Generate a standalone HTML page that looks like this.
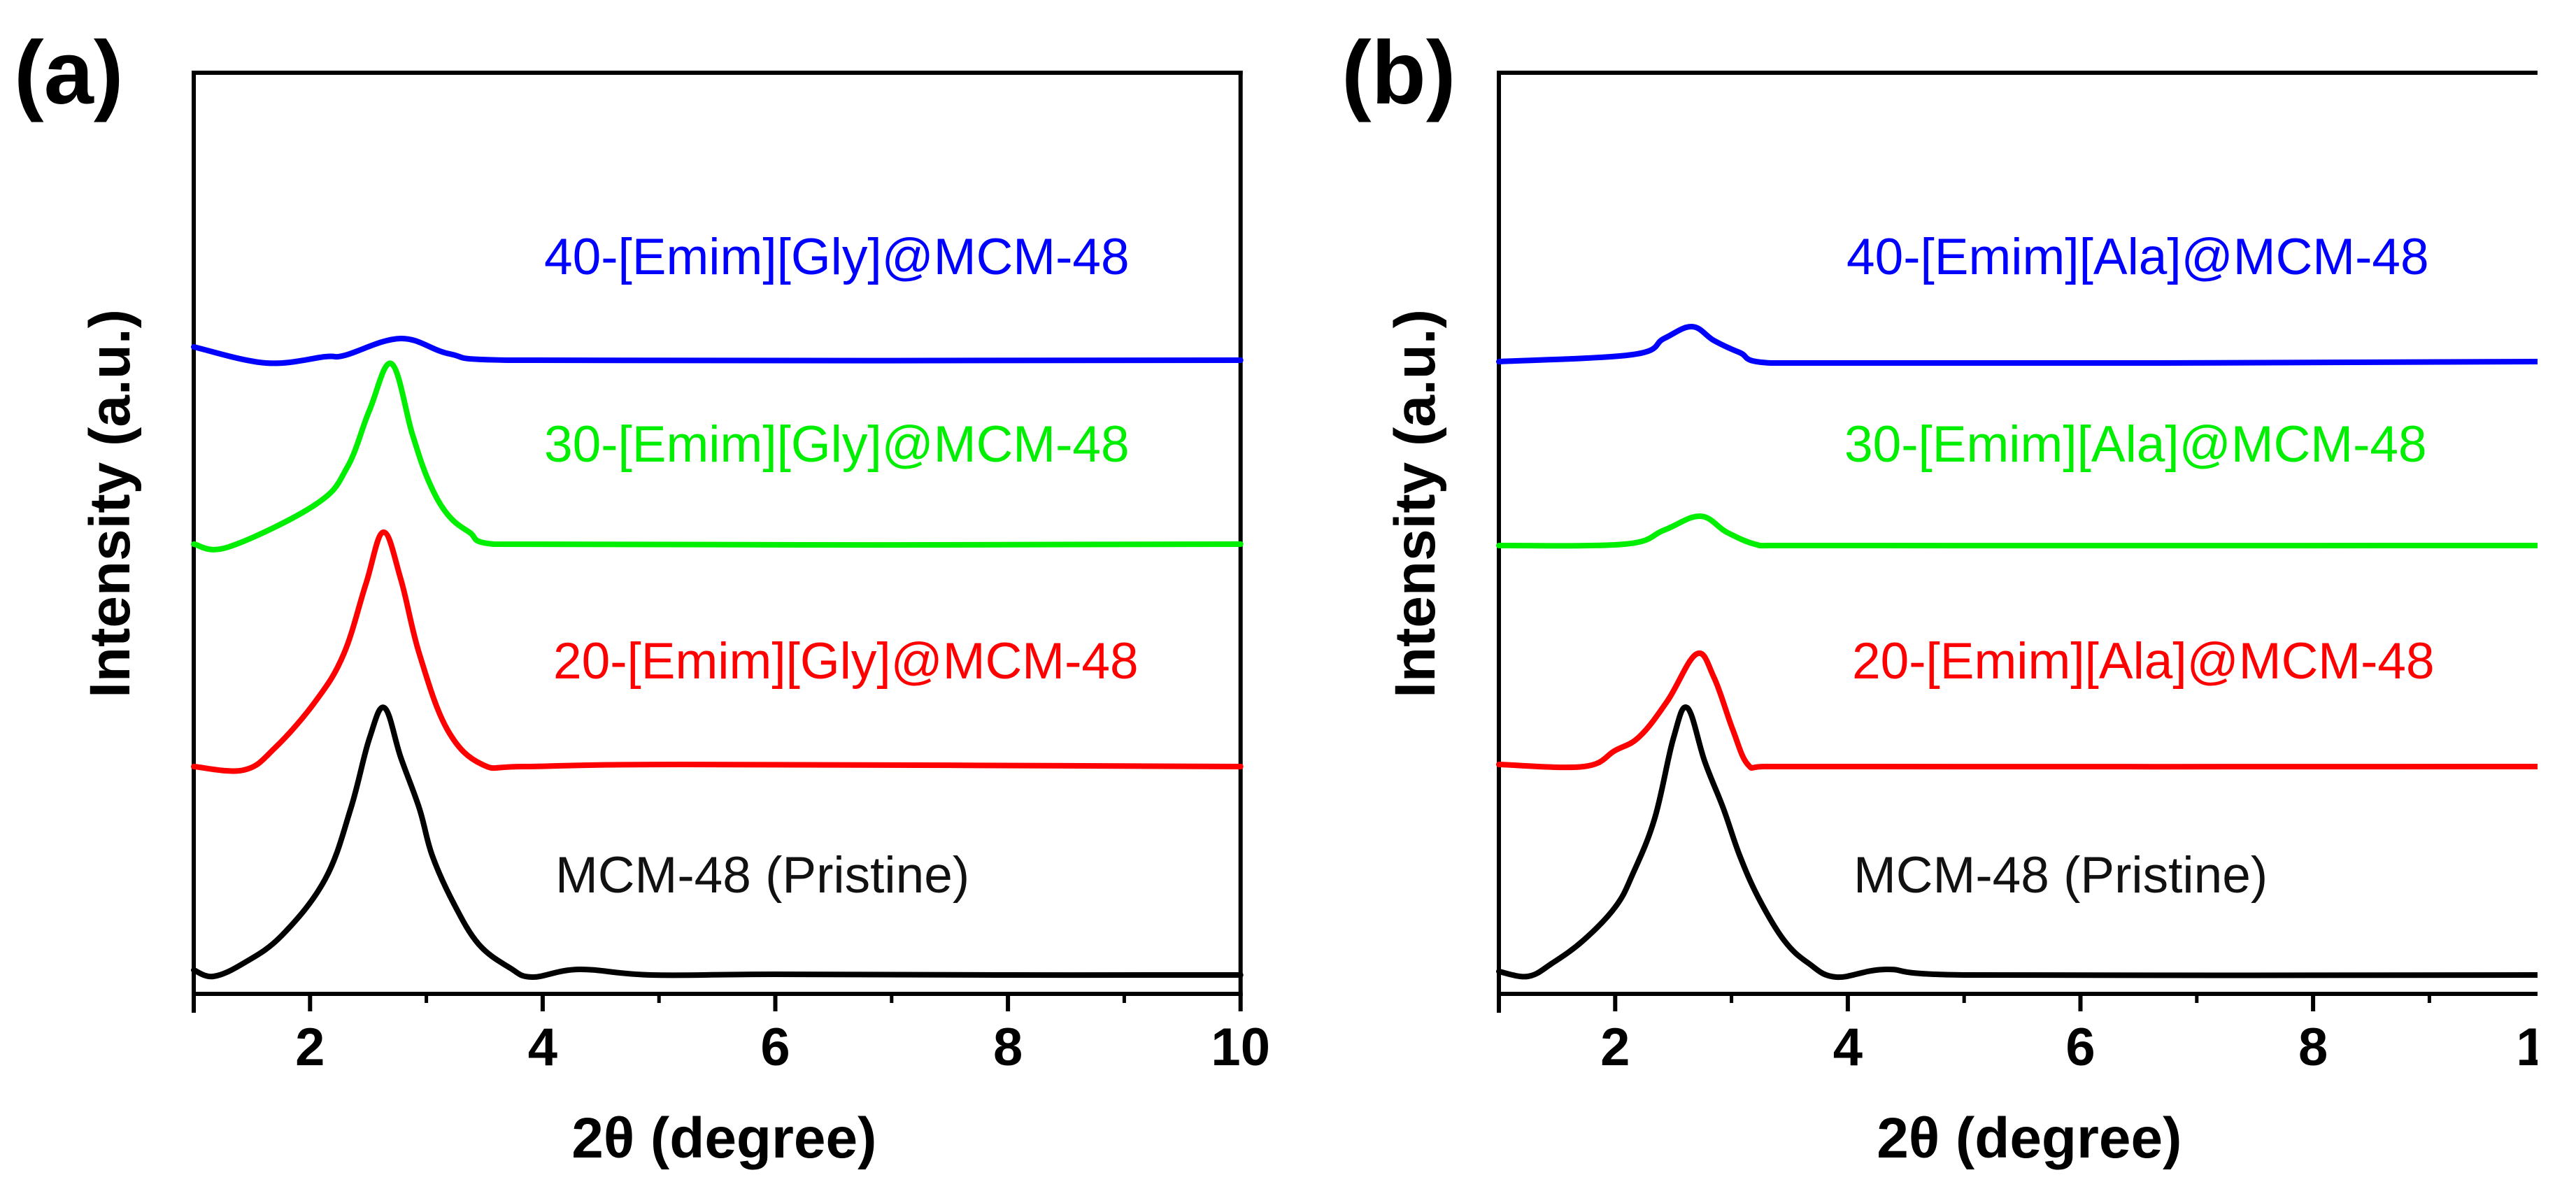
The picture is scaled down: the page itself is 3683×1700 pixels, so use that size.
<!DOCTYPE html>
<html><head><meta charset="utf-8"><style>
html,body{margin:0;padding:0;background:#fff;}
svg{display:block;font-family:"Liberation Sans",Arial,sans-serif;}
</style></head><body>
<svg id="fig" width="3683" height="1700" viewBox="0 0 3683 1700" xmlns="http://www.w3.org/2000/svg">
<rect x="0" y="0" width="3683" height="1700" fill="#fff"/>
<defs><clipPath id="clipB"><rect x="0" y="0" width="3628" height="1700"/></clipPath></defs>
<g id="panelA"></g>
<g id="panelB" clip-path="url(#clipB)"></g>
</svg>
<script>
// ---- data (2θ in degrees, intensity in a.u.) ----
const xTicks = [2, 4, 6, 8, 10];
const xTickLabels = ["2", "4", "6", "8", "10"];
const minorTicks = [1, 3, 5, 7, 9];

const a_black_x = [1.0,1.17,1.43,1.76,2.13,2.35,2.51,2.64,2.78,2.94,3.05,3.23,3.45,3.72,3.91,4.31,4.93,6,8,10];
const a_black_y = [34,25,44,84,164,265,365,409,338,265,198,131,71,37,24,35,27,28,27,27];
const a_red_x = [1.0,1.43,1.70,2.05,2.29,2.48,2.63,2.78,2.94,3.18,3.48,3.85,5.2,10];
const a_red_y = [325,320,352,419,486,586,660,593,486,378,328,325,328,325];
const a_green_x = [1.0,1.3,2.05,2.32,2.51,2.70,2.88,3.02,3.18,3.37,3.58,10];
const a_green_y = [643,639,700,753,834,901,800,733,686,660,643,643];
const a_blue_x = [1.0,1.62,2.13,2.3,2.78,3.2,3.7,10];
const a_blue_y = [925,902,911,913,937,915,906,906];

const b_black_x = [1.0,1.25,1.46,1.73,2.0,2.15,2.34,2.5,2.62,2.77,2.93,3.07,3.23,3.45,3.66,3.9,4.33,5,10];
const b_black_y = [32,25,44,77,124,171,251,365,409,332,265,198,138,77,44,24,35,27,27];
const b_red_x = [1.0,1.73,2.0,2.21,2.45,2.70,2.85,3.01,3.14,3.3,10];
const b_red_y = [328,325,348,368,419,486,452,378,328,325,325];
const b_green_x = [1.0,2.08,2.42,2.73,2.96,3.2,3.4,10];
const b_green_y = [641,643,663,683,660,643,641,641];
const b_blue_x = [1.0,2.15,2.42,2.66,2.85,3.07,3.34,10];
const b_blue_y = [904,914,937,954,934,917,902,904];

const labelsA = ["40-[Emim][Gly]@MCM-48","30-[Emim][Gly]@MCM-48","20-[Emim][Gly]@MCM-48","MCM-48 (Pristine)"];
const labelsB = ["40-[Emim][Ala]@MCM-48","30-[Emim][Ala]@MCM-48","20-[Emim][Ala]@MCM-48","MCM-48 (Pristine)"];

const NS = "http://www.w3.org/2000/svg";
function mk(tag, attrs, parent){const e=document.createElementNS(NS,tag);for(const k in attrs)e.setAttribute(k,attrs[k]);parent.appendChild(e);return e;}

const Y0 = 1421, Y1 = 104, YMAX = 1317;
function yScale(v){return Y0 - (v/YMAX)*(Y0-Y1);}

function smoothPath(P){
  let d = 'M' + P[0][0].toFixed(1) + ',' + P[0][1].toFixed(1);
  for(let i=0;i<P.length-1;i++){
    const p0=P[Math.max(0,i-1)], p1=P[i], p2=P[i+1], p3=P[Math.min(P.length-1,i+2)];
    const t=0.18;
    let c1x=p1[0]+(p2[0]-p0[0])*t, c1y=p1[1]+(p2[1]-p0[1])*t;
    let c2x=p2[0]-(p3[0]-p1[0])*t, c2y=p2[1]-(p3[1]-p1[1])*t;
    c1x=Math.min(Math.max(c1x,p1[0]),p2[0]); c2x=Math.min(Math.max(c2x,p1[0]),p2[0]);
    d += ' C'+c1x.toFixed(1)+','+c1y.toFixed(1)+' '+c2x.toFixed(1)+','+c2y.toFixed(1)+' '+p2[0].toFixed(1)+','+p2[1].toFixed(1);
  }
  return d;
}

function drawPanel(g, left, letter, labelX, series, labels, drawRight, letterX){
  const unit = 166.3;
  const xs = v => left + (v-1)*unit;
  const right = xs(10);
  let e;
  e = mk('line',{x1:left-3,y1:Y1,x2:right+3,y2:Y1,stroke:'#000','stroke-width':6},g);
   
  e = mk('line',{x1:left,y1:Y1-3,x2:left,y2:Y0+27,stroke:'#000','stroke-width':6},g);
   
  e = mk('line',{x1:left,y1:Y0,x2:right+3,y2:Y0,stroke:'#000','stroke-width':6},g);
   
  if(drawRight){
    e = mk('line',{x1:right,y1:Y1-3,x2:right,y2:Y0+3,stroke:'#000','stroke-width':6},g);
     
  }
  xTicks.forEach((t,i)=>{
    const tk = mk('line',{x1:xs(t),y1:Y0,x2:xs(t),y2:Y0+25,stroke:'#000','stroke-width':6},g);
     
    const tl = mk('text',{x:xs(t),y:Y0+102,'text-anchor':'middle','font-size':76,'font-weight':'bold',fill:'#000'},g);
    tl.textContent = xTickLabels[i];
     
  });
  minorTicks.forEach(t=>{
    const tk = mk('line',{x1:xs(t),y1:Y0,x2:xs(t),y2:Y0+13,stroke:'#000','stroke-width':5},g);
     
  });
  const colors = ['#0000ff','#00ee00','#ff0000','#000000'];
  const names = ['blue','green','red','black'];
  series.forEach((s,i)=>{
    const P = s[0].map((x,j)=>[xs(x), yScale(s[1][j])]);
    const pl = mk('path',{d:smoothPath(P),fill:'none',stroke:colors[i],'stroke-width':8,'stroke-linejoin':'round','stroke-linecap':'round'},g);
     
  });
  const ly = [366,634,944,1250];
  labels.forEach((t,i)=>{
    const tx = mk('text',{x:labelX[i],y:ly[i]+26,'font-size':73,fill:colors[i] === '#000000' ? '#111' : colors[i]},g);
    tx.textContent = t;
     
  });
  const cx = (left+right)/2;
  const xt = mk('text',{x:cx+10,y:1655,'text-anchor':'middle','font-size':82,'font-weight':'bold',fill:'#000'},g);
  xt.textContent = '2θ (degree)';
   
  const ytx = left-92;
  const yt = mk('text',{x:ytx,y:720,'text-anchor':'middle','font-size':82,'font-weight':'bold',fill:'#000',transform:'rotate(-90 '+ytx+' 720)'},g);
  yt.textContent = 'Intensity (a.u.)';
   
  const pl = mk('text',{x:letterX,y:148,'font-size':128,'font-weight':'bold',fill:'#000'},g);
  pl.textContent = '('+letter+')';
   
}

drawPanel(document.getElementById('panelA'), 277, 'a', [778,778,791,794],
  [[a_blue_x,a_blue_y],[a_green_x,a_green_y],[a_red_x,a_red_y],[a_black_x,a_black_y]], labelsA, true, 20);
drawPanel(document.getElementById('panelB'), 2143, 'b', [2640,2637,2648,2650],
  [[b_blue_x,b_blue_y],[b_green_x,b_green_y],[b_red_x,b_red_y],[b_black_x,b_black_y]], labelsB, false, 1918);
</script>
</body></html>
